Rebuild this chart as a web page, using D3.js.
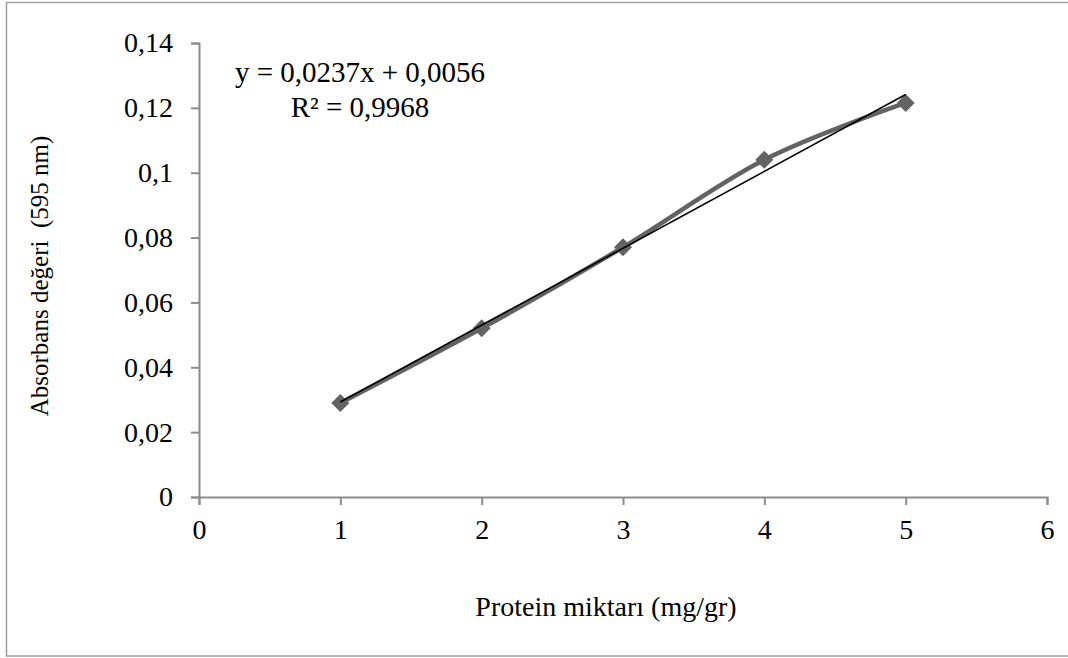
<!DOCTYPE html>
<html><head><meta charset="utf-8">
<script src="https://cdn.jsdelivr.net/npm/d3@7"></script>
<style>
html,body{margin:0;padding:0;background:#fff;}
text{font-family:"Liberation Serif","Times New Roman",serif;}
</style></head>
<body>
<svg id="c" width="1068" height="658"></svg>
<script>
const xValues = [1, 2, 3, 4, 5];
const yValues = [0.029, 0.052, 0.077, 0.104, 0.1215];
const xTicks = [0, 1, 2, 3, 4, 5, 6];
const yTicks = [0, 0.02, 0.04, 0.06, 0.08, 0.1, 0.12, 0.14];
const trendSlope = 0.0237, trendIntercept = 0.0056;
const equationLines = ["y = 0,0237x + 0,0056", "R² = 0,9968"];
const xTitle = "Protein miktarı (mg/gr)";
const yTitle = "Absorbans değeri  (595 nm)";

const FS = 28;
const svg = d3.select("#c");
svg.append("rect").attr("x",6.5).attr("y",2.5).attr("width",1080).attr("height",653.5)
  .attr("fill","none").attr("stroke","#a0a0a0").attr("stroke-width",1.5);

const x = d3.scaleLinear().domain([0,6]).range([199,1047]);
const y = d3.scaleLinear().domain([0,0.14]).range([497,43]);
const fmt = d => String(+d.toFixed(2)).replace(".", ",");

const ya = svg.append("g").attr("transform","translate(199,0)")
  .call(d3.axisLeft(y).tickValues(yTicks).tickSize(8).tickPadding(18).tickFormat(fmt));
const xa = svg.append("g").attr("transform","translate(0,497)")
  .call(d3.axisBottom(x).tickValues(xTicks).tickSize(8).tickPadding(14).tickFormat(d=>d));
[ya,xa].forEach(g=>{
  g.attr("font-size",null).attr("font-family",null);
  g.select(".domain").attr("stroke","#8c8c8c").attr("stroke-width",2);
  g.selectAll(".tick line").attr("stroke","#8c8c8c").attr("stroke-width",2);
  g.selectAll("text").attr("font-size",FS).attr("fill","#000");
});

const data = xValues.map((v,i)=>[v,yValues[i]]);
svg.append("path").datum(data)
  .attr("d", d3.line().x(d=>x(d[0])).y(d=>y(d[1])).curve(d3.curveCatmullRom.alpha(0)))
  .attr("fill","none").attr("stroke","#636363").attr("stroke-width",4.5);

svg.selectAll(".m").data(data).enter().append("path")
  .attr("transform", d=>`translate(${x(d[0])},${y(d[1])})`)
  .attr("d","M0,-9L9,0L0,9L-9,0Z")
  .attr("fill","#636363");

const tx = [xValues[0], xValues[xValues.length-1]];
svg.append("line")
  .attr("x1",x(tx[0])).attr("y1",y(trendSlope*tx[0]+trendIntercept))
  .attr("x2",x(tx[1])).attr("y2",y(trendSlope*tx[1]+trendIntercept))
  .attr("stroke","#000").attr("stroke-width",1.6);

svg.append("text").attr("x",360).attr("y",82).attr("text-anchor","middle")
  .attr("font-size",29).text(equationLines[0]);
svg.append("text").attr("x",360).attr("y",117).attr("text-anchor","middle")
  .attr("font-size",29).text(equationLines[1]);

svg.append("text").attr("x",606).attr("y",616).attr("text-anchor","middle")
  .attr("font-size",FS).text(xTitle);
svg.append("text").attr("transform","translate(48,276) rotate(-90)").attr("text-anchor","middle")
  .attr("font-size",25).attr("xml:space","preserve").style("white-space","pre").text(yTitle);
</script>
</body></html>
